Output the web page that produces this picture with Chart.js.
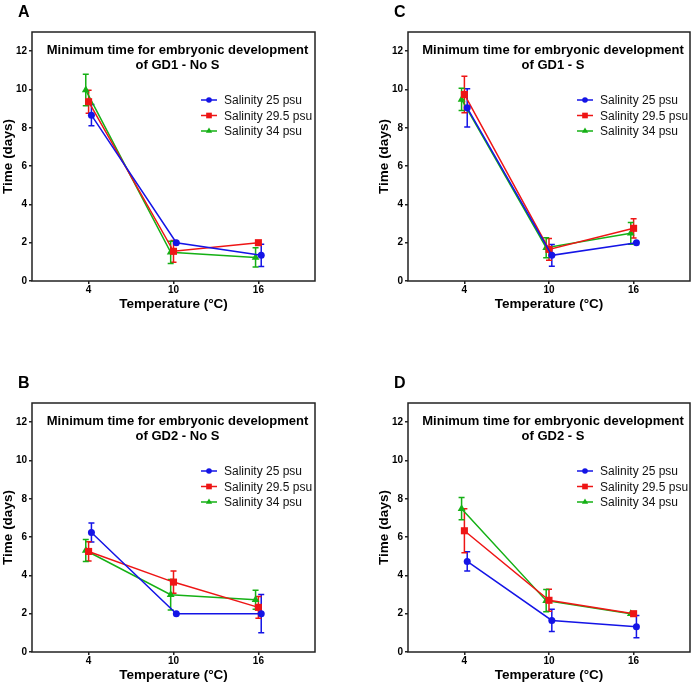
<!DOCTYPE html>
<html><head><meta charset="utf-8">
<script src="https://cdn.jsdelivr.net/npm/chart.js@4/dist/chart.umd.min.js"></script>
<style>
html,body{margin:0;padding:0;background:#fff;}
#wrap{position:relative;width:695px;height:686px;overflow:hidden;}
canvas{position:absolute;}
</style></head><body>
<div id="wrap">
<canvas id="cA" width="320" height="343" style="left:0px;top:0px"></canvas>
<canvas id="cC" width="319" height="343" style="left:376px;top:0px"></canvas>
<canvas id="cB" width="320" height="343" style="left:0px;top:343px"></canvas>
<canvas id="cD" width="319" height="343" style="left:376px;top:343px"></canvas>
</div>
<script>
// ---- data ----
const temperatures = [4, 10, 16];
const seriesLabels = ['Salinity 25 psu', 'Salinity 29.5 psu', 'Salinity 34 psu'];
const xJitter = [0.2, 0, -0.2];
const yTickStep = 2;

const titleLine1 = 'Minimum time for embryonic development';
const panelLetters = ['A', 'C', 'B', 'D'];
const panelSubtitles = ['of GD1 - No S', 'of GD1 - S', 'of GD2 - No S', 'of GD2 - S'];

// Panel A: GD1 - No S
const A_s25 = [8.66, 2.0, 1.34];   const A_s25_err = [0.55, 0, 0.58];
const A_s295 = [9.36, 1.55, 2.0];  const A_s295_err = [0.6, 0.57, 0];
const A_s34 = [9.97, 1.5, 1.23];   const A_s34_err = [0.82, 0.58, 0.5];
// Panel C: GD1 - S
const C_s25 = [9.04, 1.34, 2.0];   const C_s25_err = [1.0, 0.57, 0];
const C_s295 = [9.74, 1.65, 2.75]; const C_s295_err = [0.95, 0.57, 0.5];
const C_s34 = [9.48, 1.74, 2.49];  const C_s34_err = [0.58, 0.52, 0.57];
// Panel B: GD2 - No S
const B_s25 = [6.24, 2.0, 2.0];    const B_s25_err = [0.5, 0, 1.0];
const B_s295 = [5.25, 3.65, 2.33]; const B_s295_err = [0.5, 0.58, 0.57];
const B_s34 = [5.3, 2.99, 2.73];   const B_s34_err = [0.58, 0.8, 0.5];
// Panel D: GD2 - S
const D_s25 = [4.73, 1.65, 1.32];  const D_s25_err = [0.5, 0.58, 0.58];
const D_s295 = [6.33, 2.7, 2.0];   const D_s295_err = [1.15, 0.57, 0];
const D_s34 = [7.48, 2.68, 2.0];   const D_s34_err = [0.58, 0.58, 0];

// ---- styles ----
const FONT = 'Arial, "Liberation Sans", Helvetica, sans-serif';
const colors = ['#1414e6', '#ee1515', '#15b015'];
const pointStyles = ['circle', 'rect', 'triangle'];
const pointRadii = [3.5, 5, 4.5];

const errorBarPlugin = {
  id: 'errorBars',
  beforeDatasetsDraw(chart) {
    const ctx = chart.ctx;
    const ys = chart.scales.y;
    chart.data.datasets.forEach((ds, i) => {
      const meta = chart.getDatasetMeta(i);
      ctx.save();
      ctx.strokeStyle = ds.borderColor;
      ctx.lineWidth = 1.5;
      meta.data.forEach((pt, j) => {
        const e = ds.errorBars[j];
        if (!e) return;
        const v = ds.data[j].y;
        const y1 = ys.getPixelForValue(v + e);
        const y2 = ys.getPixelForValue(v - e);
        const x = pt.x;
        ctx.beginPath();
        ctx.moveTo(x, y1); ctx.lineTo(x, y2);
        ctx.moveTo(x - 3, y1); ctx.lineTo(x + 3, y1);
        ctx.moveTo(x - 3, y2); ctx.lineTo(x + 3, y2);
        ctx.stroke();
      });
      ctx.restore();
    });
  }
};

const decorPlugin = {
  id: 'decor',
  afterDraw(chart) {
    const ctx = chart.ctx;
    const a = chart.chartArea;
    const o = chart.options.plugins.decor;
    ctx.save();
    // frame
    ctx.strokeStyle = '#222';
    ctx.lineWidth = 1.5;
    ctx.strokeRect(a.left, a.top, a.right - a.left, a.bottom - a.top);
    // panel letter
    ctx.fillStyle = '#000';
    ctx.font = 'bold 16px ' + FONT;
    ctx.textAlign = 'left';
    ctx.textBaseline = 'alphabetic';
    ctx.fillText(o.letter, a.left - 14, a.top - 15);
    // title inside plot
    ctx.font = 'bold 13px ' + FONT;
    ctx.textAlign = 'center';
    const cx = (a.left + a.right) / 2 + 4;
    ctx.fillText(titleLine1, cx, a.top + 21.5);
    ctx.fillText(o.subtitle, cx, a.top + 36.5);
    // legend
    ctx.font = '12px ' + FONT;
    ctx.textAlign = 'left';
    ctx.textBaseline = 'middle';
    chart.data.datasets.forEach((ds, i) => {
      const y = a.top + 68 + 15.5 * i;
      ctx.strokeStyle = ds.borderColor;
      ctx.lineWidth = 1.5;
      ctx.beginPath();
      ctx.moveTo(a.left + 169, y); ctx.lineTo(a.left + 185, y);
      ctx.stroke();
      ctx.fillStyle = ds.borderColor;
      Chart.helpers.drawPoint(ctx, {pointStyle: ds.pointStyle, radius: ds.pointRadius * 0.8, rotation: 0, borderWidth: 0}, a.left + 177, y);
      ctx.fillStyle = '#111';
      ctx.fillText(ds.label, a.left + 192, y + 1);
    });
    ctx.restore();
  }
};

function makeChart(id, letter, subtitle, values, errors, padTop, padBottom) {
  const datasets = values.map((vals, i) => ({
    label: seriesLabels[i],
    data: temperatures.map((t, j) => ({x: t + xJitter[i], y: vals[j]})),
    errorBars: errors[i],
    borderColor: colors[i],
    backgroundColor: colors[i],
    pointStyle: pointStyles[i],
    pointRadius: pointRadii[i],
    pointBorderWidth: 0,
    borderWidth: 1.5,
    tension: 0,
    fill: false
  }));
  new Chart(document.getElementById(id), {
    type: 'line',
    data: {datasets},
    plugins: [errorBarPlugin, decorPlugin],
    options: {
      responsive: false,
      animation: false,
      devicePixelRatio: 1,
      layout: {padding: {top: padTop, right: 4, bottom: padBottom, left: 0}},
      plugins: {
        legend: {display: false},
        tooltip: {enabled: false},
        decor: {letter, subtitle}
      },
      scales: {
        x: {
          type: 'linear', min: 0, max: 20,
          afterBuildTicks: s => { s.ticks = temperatures.map(v => ({value: v})); },
          afterFit: s => { s.height = 31; },
          grid: {drawOnChartArea: false, drawTicks: true, tickLength: 3, color: '#222', lineWidth: 1.5},
          border: {display: false},
          ticks: {font: {family: FONT, size: 10, weight: 'bold'}, color: '#000', padding: 0, maxRotation: 0},
          title: {display: true, text: 'Temperature (°C)', font: {family: FONT, size: 13.5, weight: 'bold'}, color: '#000', padding: {top: 0, bottom: 0}}
        },
        y: {
          min: 0, max: 13,
          afterFit: s => { s.width = 32; },
          grid: {drawOnChartArea: false, drawTicks: true, tickLength: 3, color: '#222', lineWidth: 1.5},
          border: {display: false},
          ticks: {stepSize: yTickStep, includeBounds: false, font: {family: FONT, size: 10, weight: 'bold'}, color: '#000', padding: 2},
          title: {display: true, text: 'Time (days)', font: {family: FONT, size: 13.5, weight: 'bold'}, color: '#000', padding: {top: 0, bottom: 0}}
        }
      }
    }
  });
}

makeChart('cA', panelLetters[0], panelSubtitles[0], [A_s25, A_s295, A_s34], [A_s25_err, A_s295_err, A_s34_err], 32, 31);
makeChart('cC', panelLetters[1], panelSubtitles[1], [C_s25, C_s295, C_s34], [C_s25_err, C_s295_err, C_s34_err], 32, 31);
makeChart('cB', panelLetters[2], panelSubtitles[2], [B_s25, B_s295, B_s34], [B_s25_err, B_s295_err, B_s34_err], 60, 3);
makeChart('cD', panelLetters[3], panelSubtitles[3], [D_s25, D_s295, D_s34], [D_s25_err, D_s295_err, D_s34_err], 60, 3);
</script>
</body></html>
